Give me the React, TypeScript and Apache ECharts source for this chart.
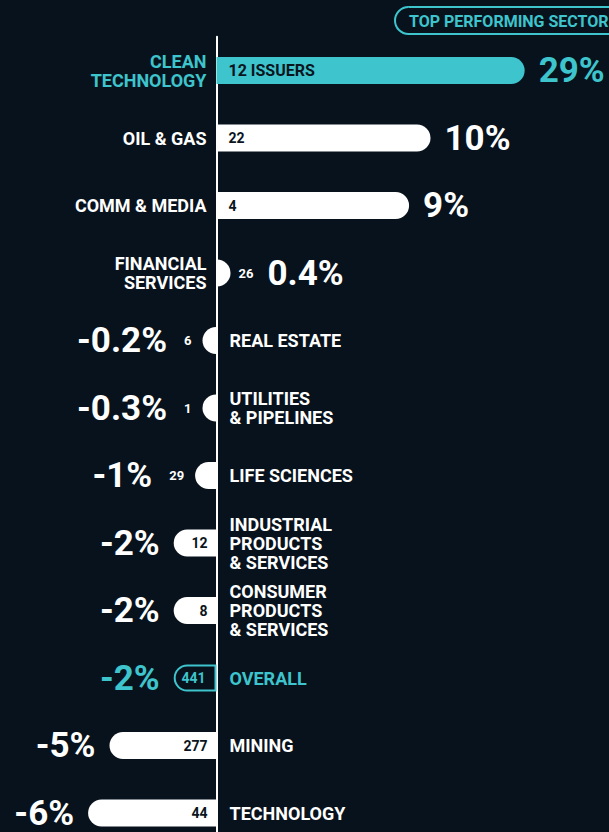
import React, { useEffect, useRef } from 'react';
import * as echarts from 'echarts';

// ---- data ----
const sectors = [
  'CLEAN\nTECHNOLOGY',
  'OIL & GAS',
  'COMM & MEDIA',
  'FINANCIAL\nSERVICES',
  'REAL ESTATE',
  'UTILITIES\n& PIPELINES',
  'LIFE SCIENCES',
  'INDUSTRIAL\nPRODUCTS\n& SERVICES',
  'CONSUMER\nPRODUCTS\n& SERVICES',
  'OVERALL',
  'MINING',
  'TECHNOLOGY',
];
const returns = [29, 10, 9, 0.4, -0.2, -0.3, -1, -2, -2, -2, -5, -6];
const issuers = [12, 22, 4, 26, 6, 1, 29, 12, 8, 441, 277, 44];
const topSectorIndex = 0;
const overallIndex = 9;
const badgeText = 'TOP PERFORMING SECTOR';

// ---- style ----
const BG = '#07121c';
const TEAL = '#3ec4cc';
const WHITE = '#ffffff';
const DARK = '#0a1520';
const FONT = 'Roboto';
const BAR_W = 27;
const R = 13.5;
const W = 609;
const H = 832;
const CHART_H = 850; // taller than the page so the last row sits partly below the fold
const GRID_TOP = 36.75;
const GRID_H = 810;

// axis scale: zero at x=216.5, 21.4 px per percentage point, break hides 14..28.6
const PX_PER_UNIT = 21.4;
const ZERO_X = 216.5;
const BREAK_START = 14;
const BREAK_END = 28.6;
const AXIS_MIN = -ZERO_X / PX_PER_UNIT;
const AXIS_MAX = (W - ZERO_X) / PX_PER_UNIT + (BREAK_END - BREAK_START);

const accentOf = (i: number) => (i === topSectorIndex || i === overallIndex ? TEAL : WHITE);
const isSmall = (v: number) => Math.abs(v) < 1.5;
const pct = (v: number) => `${v}%`;
const countText = (i: number) => (i === topSectorIndex ? `${issuers[i]} ISSUERS` : `${issuers[i]}`);

export default function App() {
  const ref = useRef<HTMLDivElement>(null);

  useEffect(() => {
    if (!ref.current) return;
    const chart = echarts.init(ref.current, null, { renderer: 'svg' });

    const barData = returns.map((v, i) => {
      const pos = v >= 0;
      const radius = pos ? [0, R, R, 0] : [R, 0, 0, R];
      const itemStyle =
        i === overallIndex
          ? { color: BG, borderColor: TEAL, borderWidth: 2, borderRadius: radius }
          : { color: i === topSectorIndex ? TEAL : WHITE, borderRadius: radius };
      const label = isSmall(v)
        ? { show: false }
        : {
            show: true,
            position: pos ? 'insideLeft' : 'insideRight',
            distance: pos ? 12 : i === overallIndex ? 11 : 9,
            formatter: () => countText(i),
            color: i === overallIndex ? TEAL : DARK,
            fontSize: i === topSectorIndex ? 16 : 14,
            fontWeight: 'bold',
            fontFamily: FONT,
          };
      return { value: v, itemStyle, label };
    });

    const valueData = returns.map((v, i) => {
      const pos = v >= 0;
      const color = accentOf(i);
      if (isSmall(v)) {
        return {
          value: v,
          label: {
            show: true,
            position: pos ? 'right' : 'left',
            distance: pos ? 8 : 11,
            formatter: () =>
              pos ? `{n|${countText(i)}}{v|${pct(v)}}` : `{v|${pct(v)}}{n|${countText(i)}}`,
            rich: {
              n: {
                fontSize: 13,
                fontWeight: 'bold',
                fontFamily: FONT,
                color,
                verticalAlign: 'middle',
                padding: pos ? [0, 14, 0, 0] : [0, 0, 0, 17],
              },
              v: {
                fontSize: 35,
                fontWeight: 'bold',
                fontFamily: FONT,
                color,
                verticalAlign: 'middle',
              },
            },
          },
        };
      }
      return {
        value: v,
        label: {
          show: true,
          position: pos ? 'right' : 'left',
          distance: 14,
          formatter: () => pct(v),
          color,
          fontSize: 35,
          fontWeight: 'bold',
          fontFamily: FONT,
        },
      };
    });

    const sectorData = returns.map((v, i) => {
      const pos = v >= 0;
      return {
        value: v,
        label: {
          show: true,
          position: pos ? 'left' : 'right',
          distance: pos ? 10 : 13,
          formatter: () => sectors[i],
          color: accentOf(i),
          fontSize: 18,
          lineHeight: 19,
          fontWeight: 'bold',
          fontFamily: FONT,
        },
      };
    });

    const common = {
      type: 'bar',
      barWidth: BAR_W,
      barGap: '-100%',
      barMinHeight: 14,
      silent: true,
    };

    chart.setOption({
      animation: false,
      backgroundColor: BG,
      grid: { left: 0, width: W, top: GRID_TOP, height: GRID_H },
      xAxis: {
        type: 'value',
        min: AXIS_MIN,
        max: AXIS_MAX,
        breaks: [{ start: BREAK_START, end: BREAK_END, gap: 0 }],
        breakArea: { show: false },
        axisLine: { show: false },
        axisTick: { show: false },
        axisLabel: { show: false },
        splitLine: { show: false },
      },
      yAxis: {
        type: 'category',
        data: sectors,
        inverse: true,
        axisLine: { show: true, onZero: true, lineStyle: { color: WHITE, width: 2 } },
        axisTick: { show: false },
        axisLabel: { show: false },
        splitLine: { show: false },
      },
      graphic: [
        {
          type: 'rect',
          shape: { x: 395, y: 7, width: 226, height: 27, r: 13.5 },
          style: { fill: 'none', stroke: TEAL, lineWidth: 2 },
        },
        {
          type: 'text',
          x: 409,
          y: 21,
          style: {
            text: badgeText,
            fill: TEAL,
            fontSize: 16,
            fontWeight: 'bold',
            fontFamily: FONT,
            align: 'left',
            verticalAlign: 'middle',
          },
        },
      ],
      series: [
        { ...common, name: 'bars', data: barData, z: 2 },
        { ...common, name: 'values', data: valueData, itemStyle: { color: 'rgba(0,0,0,0)' }, z: 3 },
        { ...common, name: 'sectors', data: sectorData, itemStyle: { color: 'rgba(0,0,0,0)' }, z: 3 },
      ],
    });

    return () => chart.dispose();
  }, []);

  return (
    <div
      style={{
        position: 'absolute',
        left: 0,
        top: 0,
        width: W,
        height: H,
        overflow: 'hidden',
        background: BG,
      }}
    >
      <div ref={ref} style={{ width: W, height: CHART_H }} />
    </div>
  );
}
